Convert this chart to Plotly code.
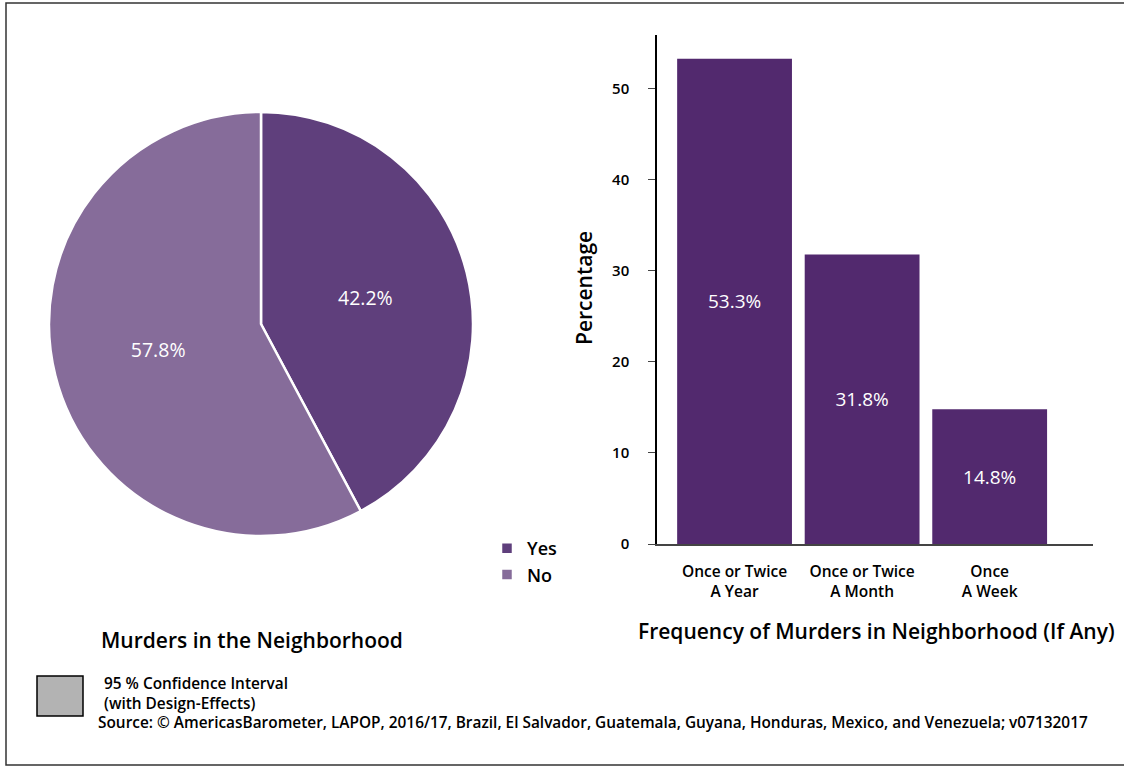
import plotly.graph_objects as go

W, H = 1124, 767

# ---- data ----
pie_labels = ["Yes", "No"]
pie_values = [42.2, 57.8]
pie_colors = ["#5f3f7c", "#866c9a"]

bar_categories = ["Once or Twice<br>A Year", "Once or Twice<br>A Month", "Once<br>A Week"]
bar_values = [53.3, 31.8, 14.8]
bar_color = "#52296e"

y_ticks = [0, 10, 20, 30, 40, 50]

pie_title = "Murders in the Neighborhood"
bar_title = "Frequency of Murders in Neighborhood (If Any)"
y_title = "Percentage"
ci_text = "95 % Confidence Interval<br>(with Design-Effects)"
source_text = ("Source: © AmericasBarometer, LAPOP, 2016/17, Brazil, El Salvador, Guatemala, "
               "Guyana, Honduras, Mexico, and Venezuela; v07132017")

FONT = "Open Sans"


def px(x):
    return x / W


def py(y):
    return 1 - y / H


fig = go.Figure()

fig.add_trace(go.Pie(
    labels=pie_labels,
    values=pie_values,
    sort=False,
    direction="clockwise",
    rotation=0,
    marker=dict(colors=pie_colors, line=dict(color="white", width=2.5)),
    texttemplate="%{value:.1f}%",
    textposition="inside",
    insidetextorientation="horizontal",
    textfont=dict(family=FONT, size=19.5, color="white", weight=500),
    domain=dict(x=[px(49), px(473)], y=[py(537), py(111)]),
    showlegend=True,
    hoverinfo="label+value",
))

fig.add_trace(go.Bar(
    x=bar_categories,
    y=bar_values,
    marker=dict(color=bar_color, line=dict(width=0)),
    width=0.9,
    texttemplate="%{y:.1f}%",
    textposition="inside",
    insidetextanchor="middle",
    textangle=0,
    textfont=dict(family=FONT, size=19, color="white", weight=500),
    showlegend=False,
    xaxis="x", yaxis="y",
))

fig.update_layout(
    template="none",
    width=W, height=H,
    autosize=False,
    margin=dict(l=0, r=0, t=0, b=0, pad=0, autoexpand=False),
    paper_bgcolor="white",
    plot_bgcolor="white",
    font=dict(family=FONT, color="black"),
    xaxis=dict(
        domain=[px(657), px(1093)],
        range=[-0.608, 2.81],
        automargin=False,
        showline=True, linecolor="#444", linewidth=2,
        showgrid=False, zeroline=False,
        ticks="",
        tickfont=dict(family=FONT, size=15.5, color="black", weight=600),
        ticklabelstandoff=12,
        anchor="y",
    ),
    yaxis=dict(
        domain=[py(544), py(35)],
        range=[0, 55.9],
        automargin=False,
        tickvals=y_ticks,
        showline=True, linecolor="black", linewidth=1.5,
        showgrid=False, zeroline=False,
        ticks="outside", ticklen=7, tickcolor="#444",
        tickfont=dict(family=FONT, size=15, color="black", weight=600),
        ticklabelstandoff=16,
        anchor="x",
    ),
    legend=dict(
        x=px(487), y=py(530), xanchor="left", yanchor="top",
        font=dict(family=FONT, size=18, color="black", weight=600),
        itemwidth=30,
        bgcolor="rgba(0,0,0,0)",
        borderwidth=0,
    ),
    bargap=0.1,
)

annotations = [
    dict(text=pie_title, x=px(252), y=py(640), xref="paper", yref="paper",
         showarrow=False, xanchor="center", yanchor="middle",
         font=dict(family=FONT, size=21, color="black", weight=600)),
    dict(text=bar_title, x=px(876), y=py(631), xref="paper", yref="paper",
         showarrow=False, xanchor="center", yanchor="middle",
         font=dict(family=FONT, size=21, color="black", weight=600)),
    dict(text=y_title, x=px(584), y=py(288), xref="paper", yref="paper",
         showarrow=False, xanchor="center", yanchor="middle", textangle=-90,
         font=dict(family=FONT, size=21, color="black", weight=600)),
    dict(text=ci_text, x=px(102), y=py(693), xref="paper", yref="paper",
         showarrow=False, xanchor="left", yanchor="middle", align="left",
         font=dict(family=FONT, size=15.4, color="black", weight=600)),
    dict(text=source_text, x=px(96), y=py(722), xref="paper", yref="paper",
         showarrow=False, xanchor="left", yanchor="middle", align="left",
         font=dict(family=FONT, size=15.4, color="black", weight=600)),
]
fig.update_layout(annotations=annotations)

shapes = [
    dict(type="rect", xref="paper", yref="paper",
         x0=px(6), x1=px(1130), y0=py(765), y1=py(3),
         line=dict(color="#333", width=1.5), fillcolor="rgba(0,0,0,0)"),
    dict(type="rect", xref="paper", yref="paper",
         x0=px(37), x1=px(83), y0=py(716), y1=py(676),
         line=dict(color="black", width=1.5), fillcolor="#b3b3b3"),
]
fig.update_layout(shapes=shapes)

fig.write_html(
    "out.html",
    config={"displayModeBar": False, "responsive": False},
    post_script="document.body.style.margin='0';",
)
